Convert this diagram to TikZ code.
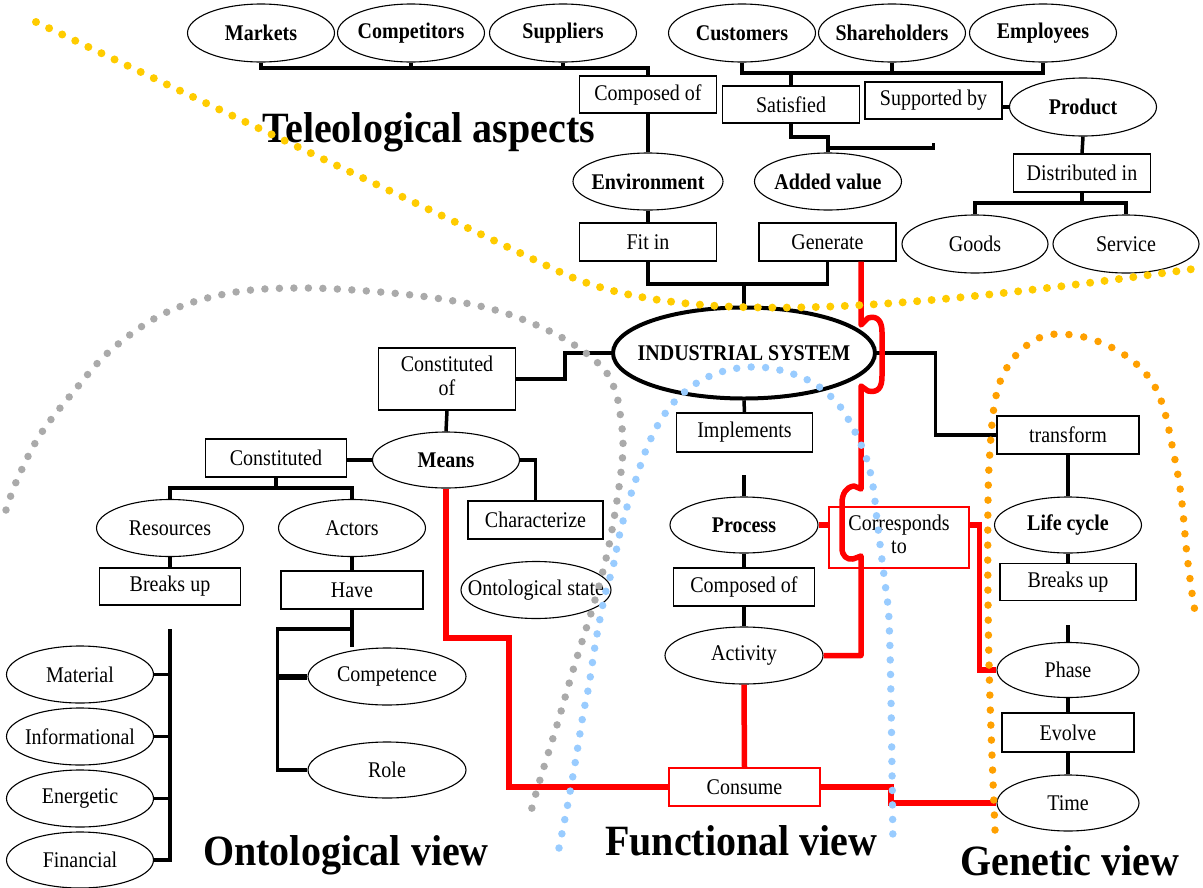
\documentclass[tikz,border=0pt]{standalone}
\usepackage{graphicx}
\usepackage{fontspec}
\setmainfont{Liberation Serif}
\usetikzlibrary{shapes.geometric,calc}
\newcommand{\vs}[1]{\makebox[0pt]{\scalebox{1}[1.12]{#1}}}
\newcommand{\vt}[1]{\scalebox{1}[1.08]{#1}}
\definecolor{ydot}{RGB}{255,204,0}
\definecolor{gdot}{RGB}{170,170,170}
\definecolor{bdot}{RGB}{153,204,255}
\definecolor{odot}{RGB}{255,160,0}
\definecolor{rline}{RGB}{255,0,0}
\begin{document}
\begin{tikzpicture}[x=1pt,y=-1pt,
  every node/.style={font=\fontsize{20}{21}\selectfont},
  el/.style 2 args={ellipse,draw,line width=1.1pt,inner sep=0pt,minimum width=#1pt,minimum height=#2pt},
  bx/.style 2 args={rectangle,draw,line width=1.1pt,inner sep=0pt,minimum width=#1pt,minimum height=#2pt},
  bf/.style={font=\fontsize{20}{21}\selectfont\bfseries},
  rbx/.style={draw=rline},
  conn/.style={line width=3.5pt},
  rconn/.style={draw=rline,line width=5.5pt},
  dots/.style={line width=7.5pt,line cap=round,dash pattern=on 0pt off 14.5pt},
  ttl/.style={anchor=base west,inner sep=0pt,font=\fontsize{40}{44}\selectfont\bfseries}]
\useasboundingbox (0,0) rectangle (1203,887);

% ---------- teleological aspects ----------
\node[el={147}{58},bf] (markets) at (261,33) {\vs{Markets}};
\node[el={147}{58},bf] (competitors) at (411,33) {\vs{Competitors}};
\node[el={147}{58},bf] (suppliers) at (563,33) {\vs{Suppliers}};
\node[el={147}{58},bf] (customers) at (742,33) {\vs{Customers}};
\node[el={147}{58},bf] (shareholders) at (892,33) {\vs{Shareholders}};
\node[el={147}{58},bf] (employees) at (1043,33) {\vs{Employees}};
\node[bx={137}{37}] (compT) at (648,94.5) {\vs{Composed of}};
\node[bx={137}{37}] (satisfied) at (791,104.5) {\vs{Satisfied}};
\node[bx={137}{37}] (supported) at (933.5,100.5) {\vs{Supported by}};
\node[el={147}{58},bf] (product) at (1083,107) {\vs{Product}};
\node[el={150}{57},bf] (environment) at (648,181.5) {\vs{Environment}};
\node[el={147}{57},bf] (addedvalue) at (828,181.5) {\vs{Added value}};
\node[bx={137}{38}] (distributed) at (1082,173) {\vs{Distributed in}};
\node[bx={137}{38}] (fitin) at (648,242) {\vs{Fit in}};
\node[bx={137}{38}] (generate) at (827.5,242) {\vs{Generate}};
\node[el={146}{58}] (goods) at (975,244) {\vs{Goods}};
\node[el={146}{58}] (service) at (1126,244) {\vs{Service}};

% ---------- centre ----------
\node[el={262}{91},bf,line width=4pt] (is) at (744,353) {\vs{INDUSTRIAL SYSTEM}};

% ---------- ontological ----------
\node[bx={137}{62}] (constof) at (447,379) {\vs{\begin{tabular}{@{}c@{}}Constituted\\of\end{tabular}}};
\node[el={147}{56},bf] (means) at (446,460) {\vs{Means}};
\node[bx={141}{38}] (constituted) at (276,458) {\vs{Constituted}};
\node[bx={135}{38}] (characterize) at (535.5,520) {\vs{Characterize}};
\node[el={147}{57}] (resources) at (170,528) {\vs{Resources}};
\node[el={147}{57}] (actors) at (352,528) {\vs{Actors}};
\node[bx={141}{37}] (breaks1) at (170,586.5) {\vs{Breaks up}};
\node[bx={142}{38}] (have) at (352,590) {\vs{Have}};
\node[el={150}{57}] (ontstate) at (536,590) {\vs{Ontological state}};
\node[el={147}{57}] (material) at (80,674.5) {\vs{Material}};
\node[el={147}{57}] (informational) at (80,736.5) {\vs{Informational}};
\node[el={147}{57}] (energetic) at (80,798.5) {\vs{Energetic}};
\node[el={147}{56}] (financial) at (80,860) {\vs{Financial}};
\node[el={158}{57}] (competence) at (387,676.5) {\vs{Competence}};
\node[el={158}{56}] (role) at (387,770) {\vs{Role}};

% ---------- functional ----------
\node[bx={136}{39}] (implements) at (744.5,432.5) {\vs{Implements}};
\node[el={148}{56},bf] (process) at (744,525) {\vs{Process}};
\node[bx={140}{61},rbx] (corr) at (899,537.5) {\vs{\begin{tabular}{@{}c@{}}Corresponds\\to\end{tabular}}};
\node[bx={141}{38}] (compM) at (744,587) {\vs{Composed of}};
\node[el={158}{57}] (activity) at (744,655.5) {\vs{Activity}};
\node[bx={151}{38},rbx] (consume) at (744.5,787) {\vs{Consume}};

% ---------- genetic ----------
\node[bx={142}{38}] (transform) at (1068,435) {\vs{transform}};
\node[el={147}{56},bf] (lifecycle) at (1068,525) {\vs{Life cycle}};
\node[bx={136}{37}] (breaks2) at (1068,582) {\vs{Breaks up}};
\node[el={142}{55}] (phase) at (1068,670) {\vs{Phase}};
\node[bx={132}{39}] (evolve) at (1068,732.5) {\vs{Evolve}};
\node[el={142}{56}] (time) at (1068,803) {\vs{Time}};

% ---------- titles ----------
\node[ttl] (t1) at (262,142) {\vt{Teleological aspects}};
\node[ttl] (t2) at (203,865) {\vt{Ontological view}};
\node[ttl] (t3) at (605,855) {\vt{Functional view}};
\node[ttl] (t4) at (960,875) {\vt{Genetic view}};

% ---------- black connectors ----------
\draw[conn] (markets.south) -- (markets.south |- 0,68) -| (compT.north);
\draw[conn] (competitors.south) -- (competitors.south |- 0,68);
\draw[conn] (suppliers.south) -- (suppliers.south |- 0,68);
\draw[conn] (compT.south) -- (environment.north);
\draw[conn] (environment.south) -- (fitin.north);
\draw[conn] (fitin.south) -- (fitin.south |- 0,284) -| (generate.south);
\draw[conn] (is.north) -- (is.north |- 0,284);
\draw[conn] (customers.south) -- (customers.south |- 0,73) -| (employees.south);
\draw[conn] (shareholders.south) -- (shareholders.south |- 0,73);
\draw[conn] (satisfied.north) -- (satisfied.north |- 0,73);
\draw[conn] (satisfied.south) -- (satisfied.south |- 0,137) -| (addedvalue.north);
\draw[conn] (addedvalue.north |- 0,148) -- (supported.south |- 0,148) -- ++(0,-5);
\draw[conn] (supported.east |- product.west) -- (product.west);
\draw[conn] (product.south) -- (distributed.north);
\draw[conn] (distributed.south) -- (distributed.south |- 0,203);
\draw[conn] (goods.north) -- (goods.north |- 0,203) -| (service.north);
\draw[conn] (constof.east) -- (565,379) |- (is.west);
\draw[conn] (constof.south) -- (means.north);
\draw[conn] (means.west) -- (means.west -| constituted.east);
\draw[conn] (constituted.south) -- (constituted.south |- 0,488);
\draw[conn] (resources.north) -- (resources.north |- 0,488) -| (actors.north);
\draw[conn] (means.east) -| (characterize.north);
\draw[conn] (resources.south) -- (breaks1.north);
\draw[conn] (actors.south) -- (have.north);
\draw[conn] (have.south) -- (have.south |- competence.north);
\coordinate (hv) at (277.5,629);
\draw[conn] (have.south |- hv) -- (hv) |- (role.west);
\draw[line width=6pt] (hv |- competence.west) -- (competence.west);
\coordinate (mt) at (170,629);
\draw[conn] (mt) |- (financial.east);
\foreach \n in {material,informational,energetic} \draw[conn] (\n.east) -- (\n.east -| mt);
\draw[conn] (is.south) -- (implements.north);
\draw[conn] (process.north) -- ++(0,-21);
\draw[conn] (process.south) -- (compM.north);
\draw[conn] (compM.south) -- (activity.north);
\draw[conn] (is.east) -- (935.6,353) |- (transform.west);
\draw[conn] (transform.south) -- (lifecycle.north);
\draw[conn] (lifecycle.south) -- (breaks2.north);
\draw[conn] (phase.north) -- ++(0,-17);
\draw[conn] (phase.south) -- (evolve.north);
\draw[conn] (evolve.south) -- (time.north);

% ---------- red connectors ----------
\draw[rconn,line join=round] (generate.south -| 861,0) -- (861,325) -- (868,318)
  .. controls (878,315) and (882,322) .. (882,332) -- (882,376)
  .. controls (882,388) and (878,393) .. (868,391) -- (861,386) -- (861,489)
  -- (854,486) .. controls (846,487) and (842,494) .. (842,503) -- (842,548)
  .. controls (842,556) and (847,560) .. (853,559) -- (861,556) |- (activity.east);
\draw[rconn] (means.south) |- (509,638) |- (consume.west);
\draw[rconn] (activity.south) -- (consume.north);
\draw[rconn] (consume.east) -- (891,787) |- (time.west);
\draw[rconn] (process.east) -- (corr.west |- process.east);
\draw[rconn] (corr.east |- process.east) -| ($(phase.west)+(-17,0)$) -- (phase.west);

% ---------- dotted boundaries ----------
\draw[dots,ydot,line width=8pt] (36,22) -- (560,272) .. controls (680,329) and (900,310) .. (1200,268);
\draw[dots,gdot] plot[smooth,tension=0.6] coordinates {(6,510) (17,480) (40,435) (75,390) (111,350) (165,313) (230,293) (300,288) (380,292) (448,300) (505,313) (561,337) (600,365) (615,390) (621,420) (623,447) (620,480) (612,530) (604,567) (592,610) (574,667) (557,725) (539,783) (530,815)};
\draw[dots,bdot] plot[smooth,tension=0.6] coordinates {(559,848) (568,803) (576,758) (583,715) (589,685) (596,640) (605,595) (613,567) (619,537) (627,507) (636,479) (646,450) (659,423) (676,400) (700,381) (728,370) (758,367) (787,372) (815,384) (838,404) (853,428) (866,457) (873,486) (877,520) (882,560) (886,591) (889,620) (891,700) (893,848)};
\draw[dots,odot,dash pattern=on 0pt off 15pt] plot[smooth,tension=0.6] coordinates {(995,830) (990,700) (988,600) (988,500) (990,450) (994,407) (1002,377) (1019,352) (1044,336) (1073,335) (1102,343) (1129,358) (1150,379) (1163,406) (1173,450) (1181,495) (1187,555) (1193,600) (1196,615)};
\end{tikzpicture}
\end{document}
